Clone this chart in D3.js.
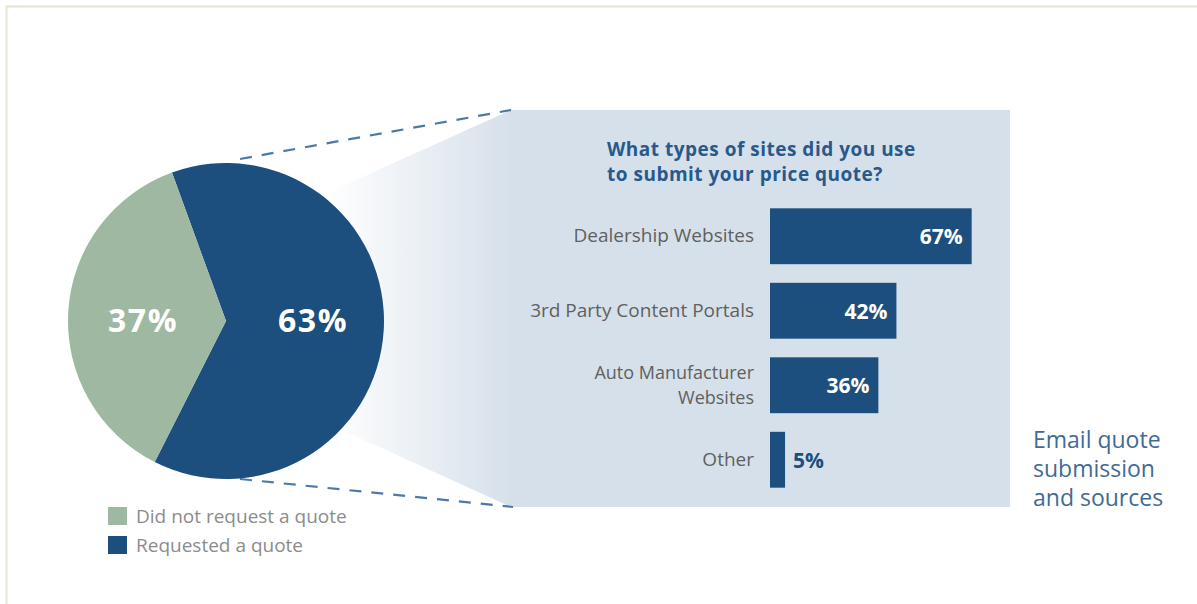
<!DOCTYPE html>
<html>
<head>
<meta charset="utf-8">
<script src="https://cdn.jsdelivr.net/npm/d3@7"></script>
<style>
  html, body { margin: 0; padding: 0; background: #fff; }
  svg { display: block; font-family: "Open Sans", "Noto Sans", sans-serif; }
</style>
</head>
<body>
<svg id="chart" width="1197" height="604"></svg>
<script>
// Share of respondents who requested a price quote
const pieLabels = ["Requested a quote", "Did not request a quote"];
const pieValues = [63, 37];

// Sites used to submit the quote
const siteCategories = ["Dealership Websites", "3rd Party Content Portals", "Auto Manufacturer Websites", "Other"];
const siteLabelLines = [["Dealership Websites"], ["3rd Party Content Portals"], ["Auto Manufacturer", "Websites"], ["Other"]];
const siteValues = [67, 42, 36, 5];

const titleLines = ["What types of sites did you use", "to submit your price quote?"];
const sideLines = ["Email quote", "submission", "and sources"];

const BLUE = "#1c4f7e", GREEN = "#9eb8a2", PANEL = "#d6e0ea";

const svg = d3.select("#chart");
const defs = svg.append("defs");

// frame lines along the top and left
svg.append("line").attr("x1", 6).attr("y1", 6.5).attr("x2", 1197).attr("y2", 6.5)
  .attr("stroke", "#e4e4d0").attr("stroke-width", 2);
svg.append("line").attr("x1", 6.5).attr("y1", 6).attr("x2", 6.5).attr("y2", 604)
  .attr("stroke", "#e4e4d0").attr("stroke-width", 2);

// fading wedge that connects the pie to the detail panel
const grad = defs.append("linearGradient").attr("id", "fade")
  .attr("gradientUnits", "userSpaceOnUse")
  .attr("x1", 325).attr("y1", 0).attr("x2", 512).attr("y2", 0);
grad.append("stop").attr("offset", 0).attr("stop-color", "#ffffff");
grad.append("stop").attr("offset", 1).attr("stop-color", PANEL);

svg.append("path")
  .attr("d", d3.line()([[300, 205], [511, 110], [511, 507], [300, 411]]) + "Z")
  .attr("fill", "url(#fade)");

// detail panel
svg.append("rect").attr("x", 510).attr("y", 110).attr("width", 500).attr("height", 397)
  .attr("fill", PANEL);

// dashed callout lines
const dash = svg.append("g").attr("stroke", "#4b7aa8").attr("stroke-width", 2.2)
  .attr("stroke-dasharray", "12,10").attr("fill", "none");
dash.append("line").attr("x1", 240).attr("y1", 159).attr("x2", 511).attr("y2", 110);
dash.append("line").attr("x1", 240).attr("y1", 479).attr("x2", 513).attr("y2", 507);

// pie
const cx = 226, cy = 321, R = 158;
const startA = -20 * Math.PI / 180;
const pie = d3.pie().sort(null).startAngle(startA).endAngle(startA + 2 * Math.PI);
const arcs = pie(pieValues);
const arc = d3.arc().innerRadius(0).outerRadius(R);
const pieG = svg.append("g").attr("transform", `translate(${cx},${cy})`);
pieG.selectAll("path").data(arcs).join("path")
  .attr("d", arc)
  .attr("fill", (d, i) => i === 0 ? BLUE : GREEN);

// percentage labels in the slices
const labelX = [87, -83];
pieG.selectAll("text.pct").data(arcs).join("text")
  .attr("class", "pct")
  .attr("x", (d, i) => labelX[i])
  .attr("y", 11)
  .attr("text-anchor", "middle")
  .attr("fill", "#fff")
  .attr("font-weight", 700)
  .attr("font-size", 32)
  .attr("letter-spacing", 1.5)
  .text(d => d.data + "%");

// legend
const legendOrder = [1, 0];
const lg = svg.append("g");
legendOrder.forEach((idx, k) => {
  const y = 507 + k * 29;
  lg.append("rect").attr("x", 108).attr("y", y).attr("width", 19).attr("height", 18)
    .attr("fill", idx === 0 ? BLUE : GREEN);
  lg.append("text").attr("x", 136).attr("y", y + 16)
    .attr("font-size", 19).attr("fill", "#8c8c8c")
    .text(pieLabels[idx]);
});

// panel title
svg.append("text")
  .attr("x", 607).attr("y", 156)
  .attr("font-size", 19).attr("font-weight", 700).attr("fill", "#27598a")
  .attr("letter-spacing", 0.5)
  .selectAll("tspan").data(titleLines).join("tspan")
  .attr("x", 607).attr("dy", (d, i) => i === 0 ? 0 : 25)
  .text(d => d);

// bar chart
const x = d3.scaleLinear().domain([0, 100]).range([770, 1071]);
const y = d3.scaleBand().domain(siteCategories).range([199, 497])
  .paddingInner(0.25).paddingOuter(0.125);

const bars = svg.append("g");
bars.selectAll("rect").data(siteValues).join("rect")
  .attr("x", x(0))
  .attr("y", (d, i) => y(siteCategories[i]))
  .attr("width", d => x(d) - x(0))
  .attr("height", y.bandwidth())
  .attr("fill", BLUE);

// values: inside the bar when it is wide enough, otherwise just after it
bars.selectAll("text.val").data(siteValues).join("text")
  .attr("class", "val")
  .attr("x", d => (x(d) - x(0) > 60) ? x(d) - 9 : x(d) + 8)
  .attr("y", (d, i) => y(siteCategories[i]) + y.bandwidth() / 2 + 8)
  .attr("text-anchor", d => (x(d) - x(0) > 60) ? "end" : "start")
  .attr("fill", d => (x(d) - x(0) > 60) ? "#fff" : BLUE)
  .attr("font-size", 21).attr("font-weight", 700)
  .text(d => d + "%");

// category labels (one text element per line; wrapped labels a touch smaller)
const cat = svg.append("g").attr("fill", "#606060").attr("text-anchor", "end");
const lineGap = 25;
siteLabelLines.forEach((lines, i) => {
  const mid = y(siteCategories[i]) + y.bandwidth() / 2;
  const top = mid + 6 - (lines.length - 1) * lineGap / 2;
  lines.forEach((s, j) => {
    cat.append("text").attr("x", 754).attr("y", top + j * lineGap)
      .attr("font-size", lines.length > 1 ? 18 : 19)
      .text(s);
  });
});

// side caption
svg.append("text")
  .attr("font-size", 23).attr("fill", "#3f6b95")
  .selectAll("tspan").data(sideLines).join("tspan")
  .attr("x", 1033).attr("y", (d, i) => 448 + i * 29)
  .text(d => d);
</script>
</body>
</html>
